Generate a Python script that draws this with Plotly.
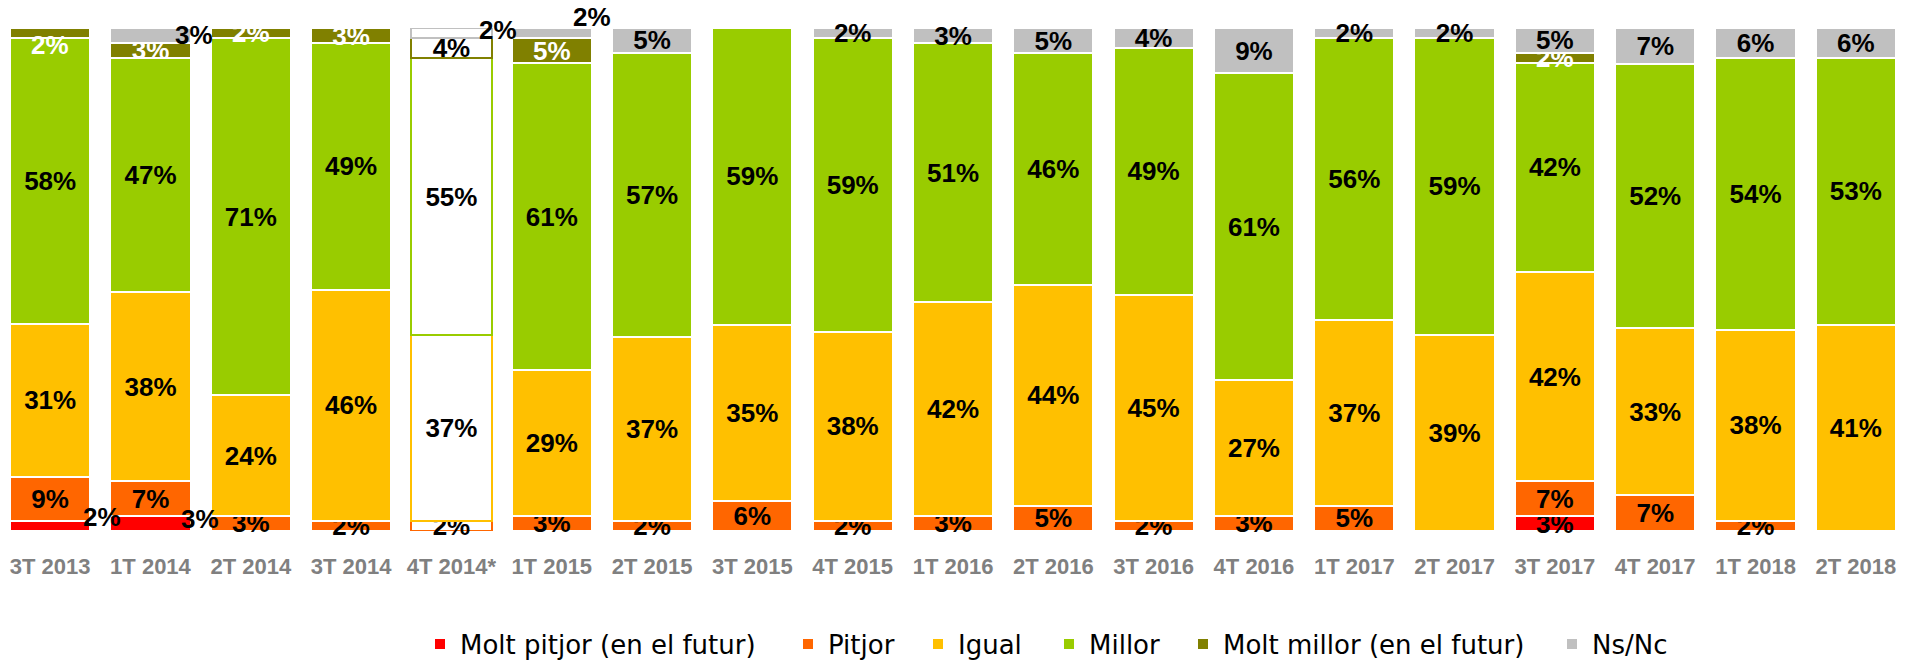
import plotly.graph_objects as go

categories = ["3T 2013", "1T 2014", "2T 2014", "3T 2014", "4T 2014*", "1T 2015", "2T 2015",
              "3T 2015", "4T 2015", "1T 2016", "2T 2016", "3T 2016", "4T 2016", "1T 2017",
              "2T 2017", "3T 2017", "4T 2017", "1T 2018", "2T 2018"]

molt_pitjor = [2, 3, 0, 0, 0, 0, 0, 0, 0, 0, 0, 0, 0, 0, 0, 3, 0, 0, 0]
pitjor = [9, 7, 3, 2, 2, 3, 2, 6, 2, 3, 5, 2, 3, 5, 0, 7, 7, 2, 0]
igual = [31, 38, 24, 46, 37, 29, 37, 35, 38, 42, 44, 45, 27, 37, 39, 42, 33, 38, 41]
millor = [58, 47, 71, 49, 55, 61, 57, 59, 59, 51, 46, 49, 61, 56, 59, 42, 52, 54, 53]
molt_millor = [2, 3, 2, 3, 4, 5, 0, 0, 0, 0, 0, 0, 0, 0, 0, 2, 0, 0, 0]
ns_nc = [0, 3, 0, 0, 2, 2, 5, 0, 2, 3, 5, 4, 9, 2, 2, 5, 7, 6, 6]

series_names = ["Molt pitjor (en el futur)", "Pitjor", "Igual", "Millor",
                "Molt millor (en el futur)", "Ns/Nc"]
series_values = [molt_pitjor, pitjor, igual, millor, molt_millor, ns_nc]
series_colors = ["#FF0000", "#FF6600", "#FFC000", "#99CC00", "#808000", "#C0C0C0"]

hollow_category = "4T 2014*"
# labels moved out of their segment: (series index, category) -> pixel shift
moved_labels = {
    (0, "3T 2013"): (52, 9),
    (0, "1T 2014"): (50, 5),
    (5, "1T 2014"): (44, 0),
    (5, "4T 2014*"): (47, 3),
    (5, "1T 2015"): (40, 16),
    (4, "3T 2013"): (0, -12),
}
# legend entry positions (x of each entry's left edge, in pixels)
legend_left_px = [420, 788, 918, 1049, 1183, 1552]

W, H = 1906, 660
LABEL_FONT = "Liberation Sans, Arial, sans-serif"
LABEL_SIZE = 26

fig = go.Figure()
totals = [sum(s[i] for s in series_values) for i in range(len(categories))]
cum = [0.0] * len(categories)
annotations = []

for si, (name, vals, col) in enumerate(zip(series_names, series_values, series_colors)):
    y = [v if v > 0 else None for v in vals]
    fill, line_col, text, tcol = [], [], [], []
    for ci, cat in enumerate(categories):
        v = vals[ci]
        hollow = cat == hollow_category
        fill.append("#FFFFFF" if hollow else col)
        line_col.append(col if hollow else "#FFFFFF")
        white_text = (si == 4 and not hollow)
        tcol.append("#FFFFFF" if white_text else "#000000")
        lab = f"{v}%" if v > 0 else ""
        if (si, cat) in moved_labels and v > 0:
            dx, dy = moved_labels[(si, cat)]
            mid = (cum[ci] + v / 2) / totals[ci] * 100
            annotations.append(dict(
                x=cat, y=mid, xref="x", yref="y", text=lab, showarrow=False,
                xshift=dx, yshift=dy,
                font=dict(family=LABEL_FONT, size=LABEL_SIZE, color=tcol[-1], weight=700)))
            lab = ""
        text.append(lab)
        cum[ci] += v
    legend_id = "legend" if si == 0 else f"legend{si + 1}"
    fig.add_trace(go.Bar(
        name=name, x=categories, y=y, legend=legend_id,
        marker=dict(color=fill, line=dict(color=line_col, width=2)),
        text=text, textposition="inside", insidetextanchor="middle",
        textangle=0, constraintext="none",
        textfont=dict(family=LABEL_FONT, size=LABEL_SIZE, color=tcol, weight=700),
        cliponaxis=(si == 4),
    ))

MT, MB = 28, 129
plot_h = H - MT - MB
legend_y = -(644 - (H - MB)) / plot_h

layout_legends = {}
for si, px in enumerate(legend_left_px):
    key = "legend" if si == 0 else f"legend{si + 1}"
    layout_legends[key] = dict(
        orientation="h", x=px / W, xanchor="left", y=legend_y, yanchor="middle",
        font=dict(family="DejaVu Sans, sans-serif", size=26, color="#000000"),
        bgcolor="rgba(0,0,0,0)", itemclick=False)

fig.update_layout(
    width=W, height=H,
    barmode="stack", barnorm="percent", bargap=0.2,
    plot_bgcolor="#FFFFFF", paper_bgcolor="#FFFFFF",
    margin=dict(l=0, r=0, t=MT, b=MB, autoexpand=False),
    xaxis=dict(showgrid=False, showline=False, zeroline=False, ticks="",
               tickfont=dict(family=LABEL_FONT, size=22, color="#808080", weight=700),
               ticklabelstandoff=20),
    yaxis=dict(range=[0, 100.001], visible=False, showgrid=False, zeroline=False),
    annotations=annotations,
    showlegend=True,
    **layout_legends,
)

fig.write_html("out.html", config={"displayModeBar": False},
               post_script="document.body.style.margin='0';")
